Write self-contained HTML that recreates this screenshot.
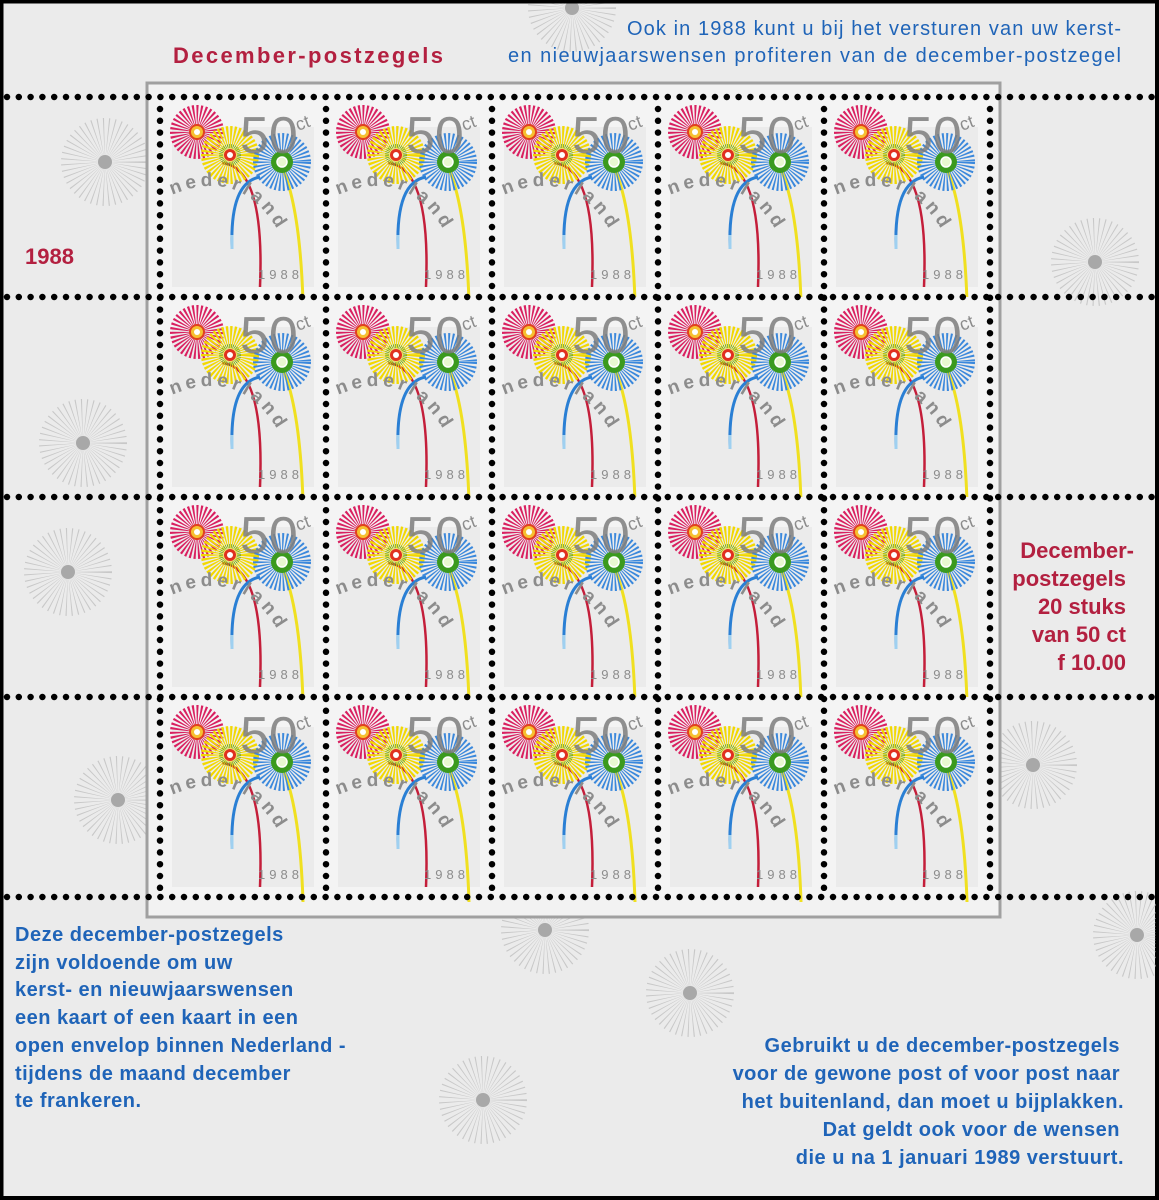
<!DOCTYPE html>
<html><head><meta charset="utf-8"><style>
html,body{margin:0;padding:0;background:#000}
svg{display:block}
.b{font-family:"Liberation Sans",sans-serif;fill:#1f64b8;font-size:20px;font-weight:bold;letter-spacing:0.5px}
.r{font-family:"Liberation Sans",sans-serif;fill:#b32040;font-weight:bold;font-size:22px}
</style></head><body>
<svg width="1159" height="1200" viewBox="0 0 1159 1200" xmlns="http://www.w3.org/2000/svg">
<defs>
<g id="bg">
<circle r="22" fill="none" stroke="#c8c8c8" stroke-width="44" stroke-dasharray="0.6 2.6"/>
<circle r="7" fill="#a8a8a8"/>
</g>
<g id="fw">
<rect x="0" y="0" width="166" height="200" fill="#f4f4f4"/>
<rect x="12" y="30" width="142" height="160" fill="#ebebeb"/>
<path d="M62 66 Q105 70 100 190" fill="none" stroke="#c41e3a" stroke-width="2.5"/>
<path d="M72 150 Q70 85 100 80" fill="none" stroke="#2a7fd4" stroke-width="3"/>
<path d="M72 138 L72 152" stroke="#9fd0f0" stroke-width="3"/>
<path d="M122 70 Q140 110 143 205" fill="none" stroke="#f0e020" stroke-width="3"/>
<circle cx="37" cy="35" r="15" fill="none" stroke="#d92060" stroke-width="24" stroke-dasharray="1.3 1.4"/>
<circle cx="37" cy="35" r="7" fill="#f6c030" stroke="#e04020" stroke-width="2"/>
<circle cx="37" cy="35" r="3" fill="#fff"/>
<circle cx="70" cy="58" r="16" fill="none" stroke="#f2d800" stroke-width="26" stroke-dasharray="1.4 1.2"/>
<circle cx="70" cy="58" r="9" fill="none" stroke="#4a9a28" stroke-width="4" stroke-dasharray="0.6 1.2"/>
<circle cx="70" cy="58" r="6" fill="#e03020"/>
<circle cx="70" cy="58" r="3" fill="#fff"/>
<circle cx="122" cy="65" r="16" fill="none" stroke="#3a88dc" stroke-width="26" stroke-dasharray="1.2 1.4"/>
<circle cx="122" cy="65" r="11" fill="#3b9a1e"/>
<circle cx="122" cy="65" r="5" fill="#e8f8d0" stroke="#fff" stroke-width="1.5"/>
</g>
<path id="arc" d="M12 98 Q100 60 138 180"/>
</defs>
<rect x="3" y="3" width="1152" height="1193" fill="#ebebeb"/>
<use href="#bg" x="105" y="162"/><use href="#bg" x="1095" y="262"/><use href="#bg" x="83" y="443"/>
<use href="#bg" x="68" y="572"/><use href="#bg" x="1033" y="765"/><use href="#bg" x="118" y="800"/>
<use href="#bg" x="690" y="993"/><use href="#bg" x="483" y="1100"/><use href="#bg" x="1137" y="935"/>
<use href="#bg" x="572" y="8"/><use href="#bg" x="545" y="930"/>
<text class="r" x="173" y="63" style="font-size:22px;letter-spacing:1px" textLength="271">December-postzegels</text>
<text class="b" x="1121" y="35" text-anchor="end" style="font-weight:normal;letter-spacing:0" textLength="494">Ook in 1988 kunt u bij het versturen van uw kerst-</text>
<text class="b" x="1121" y="62" text-anchor="end" style="font-weight:normal;letter-spacing:0" textLength="613">en nieuwjaarswensen profiteren van de december-postzegel</text>
<text class="r" x="25" y="264">1988</text>
<g class="r" text-anchor="end"><text x="1134" y="558">December-</text><text x="1126" y="586">postzegels</text><text x="1126" y="614">20 stuks</text><text x="1126" y="642">van 50 ct</text><text x="1126" y="670">f 10.00</text></g>
<g class="b"><text x="15" y="941">Deze december-postzegels</text><text x="15" y="969">zijn voldoende om uw</text><text x="15" y="996">kerst- en nieuwjaarswensen</text><text x="15" y="1024">een kaart of een kaart in een</text><text x="15" y="1052">open envelop binnen Nederland -</text><text x="15" y="1080">tijdens de maand december</text><text x="15" y="1107">te frankeren.</text></g>
<g class="b" text-anchor="end"><text x="1120" y="1052">Gebruikt u de december-postzegels</text><text x="1120" y="1080">voor de gewone post of voor post naar</text><text x="1124" y="1108">het buitenland, dan moet u bijplakken.</text><text x="1120" y="1136">Dat geldt ook voor de wensen</text><text x="1124" y="1164">die u na 1 januari 1989 verstuurt.</text></g>
<rect x="147" y="83" width="853" height="834" fill="#f2f2f2" stroke="#a0a0a0" stroke-width="3"/>
<g id="stamps" font-family="Liberation Sans, sans-serif">
<g transform="translate(160,97)"><use href="#fw"/><text x="80" y="56" font-size="52" fill="#7e7e7e" opacity=".85">50</text><text x="138" y="34" font-size="18" fill="#8c8c8c" transform="rotate(-20 138 34)">ct</text><text font-size="19" font-weight="bold" fill="#8c8c8c" letter-spacing="4"><textPath href="#arc">nederland</textPath></text><text x="98" y="182" font-size="13" fill="#8c8c8c" letter-spacing="4">1988</text></g>
<g transform="translate(326,97)"><use href="#fw"/><text x="80" y="56" font-size="52" fill="#7e7e7e" opacity=".85">50</text><text x="138" y="34" font-size="18" fill="#8c8c8c" transform="rotate(-20 138 34)">ct</text><text font-size="19" font-weight="bold" fill="#8c8c8c" letter-spacing="4"><textPath href="#arc">nederland</textPath></text><text x="98" y="182" font-size="13" fill="#8c8c8c" letter-spacing="4">1988</text></g>
<g transform="translate(492,97)"><use href="#fw"/><text x="80" y="56" font-size="52" fill="#7e7e7e" opacity=".85">50</text><text x="138" y="34" font-size="18" fill="#8c8c8c" transform="rotate(-20 138 34)">ct</text><text font-size="19" font-weight="bold" fill="#8c8c8c" letter-spacing="4"><textPath href="#arc">nederland</textPath></text><text x="98" y="182" font-size="13" fill="#8c8c8c" letter-spacing="4">1988</text></g>
<g transform="translate(658,97)"><use href="#fw"/><text x="80" y="56" font-size="52" fill="#7e7e7e" opacity=".85">50</text><text x="138" y="34" font-size="18" fill="#8c8c8c" transform="rotate(-20 138 34)">ct</text><text font-size="19" font-weight="bold" fill="#8c8c8c" letter-spacing="4"><textPath href="#arc">nederland</textPath></text><text x="98" y="182" font-size="13" fill="#8c8c8c" letter-spacing="4">1988</text></g>
<g transform="translate(824,97)"><use href="#fw"/><text x="80" y="56" font-size="52" fill="#7e7e7e" opacity=".85">50</text><text x="138" y="34" font-size="18" fill="#8c8c8c" transform="rotate(-20 138 34)">ct</text><text font-size="19" font-weight="bold" fill="#8c8c8c" letter-spacing="4"><textPath href="#arc">nederland</textPath></text><text x="98" y="182" font-size="13" fill="#8c8c8c" letter-spacing="4">1988</text></g>
<g transform="translate(160,297)"><use href="#fw"/><text x="80" y="56" font-size="52" fill="#7e7e7e" opacity=".85">50</text><text x="138" y="34" font-size="18" fill="#8c8c8c" transform="rotate(-20 138 34)">ct</text><text font-size="19" font-weight="bold" fill="#8c8c8c" letter-spacing="4"><textPath href="#arc">nederland</textPath></text><text x="98" y="182" font-size="13" fill="#8c8c8c" letter-spacing="4">1988</text></g>
<g transform="translate(326,297)"><use href="#fw"/><text x="80" y="56" font-size="52" fill="#7e7e7e" opacity=".85">50</text><text x="138" y="34" font-size="18" fill="#8c8c8c" transform="rotate(-20 138 34)">ct</text><text font-size="19" font-weight="bold" fill="#8c8c8c" letter-spacing="4"><textPath href="#arc">nederland</textPath></text><text x="98" y="182" font-size="13" fill="#8c8c8c" letter-spacing="4">1988</text></g>
<g transform="translate(492,297)"><use href="#fw"/><text x="80" y="56" font-size="52" fill="#7e7e7e" opacity=".85">50</text><text x="138" y="34" font-size="18" fill="#8c8c8c" transform="rotate(-20 138 34)">ct</text><text font-size="19" font-weight="bold" fill="#8c8c8c" letter-spacing="4"><textPath href="#arc">nederland</textPath></text><text x="98" y="182" font-size="13" fill="#8c8c8c" letter-spacing="4">1988</text></g>
<g transform="translate(658,297)"><use href="#fw"/><text x="80" y="56" font-size="52" fill="#7e7e7e" opacity=".85">50</text><text x="138" y="34" font-size="18" fill="#8c8c8c" transform="rotate(-20 138 34)">ct</text><text font-size="19" font-weight="bold" fill="#8c8c8c" letter-spacing="4"><textPath href="#arc">nederland</textPath></text><text x="98" y="182" font-size="13" fill="#8c8c8c" letter-spacing="4">1988</text></g>
<g transform="translate(824,297)"><use href="#fw"/><text x="80" y="56" font-size="52" fill="#7e7e7e" opacity=".85">50</text><text x="138" y="34" font-size="18" fill="#8c8c8c" transform="rotate(-20 138 34)">ct</text><text font-size="19" font-weight="bold" fill="#8c8c8c" letter-spacing="4"><textPath href="#arc">nederland</textPath></text><text x="98" y="182" font-size="13" fill="#8c8c8c" letter-spacing="4">1988</text></g>
<g transform="translate(160,497)"><use href="#fw"/><text x="80" y="56" font-size="52" fill="#7e7e7e" opacity=".85">50</text><text x="138" y="34" font-size="18" fill="#8c8c8c" transform="rotate(-20 138 34)">ct</text><text font-size="19" font-weight="bold" fill="#8c8c8c" letter-spacing="4"><textPath href="#arc">nederland</textPath></text><text x="98" y="182" font-size="13" fill="#8c8c8c" letter-spacing="4">1988</text></g>
<g transform="translate(326,497)"><use href="#fw"/><text x="80" y="56" font-size="52" fill="#7e7e7e" opacity=".85">50</text><text x="138" y="34" font-size="18" fill="#8c8c8c" transform="rotate(-20 138 34)">ct</text><text font-size="19" font-weight="bold" fill="#8c8c8c" letter-spacing="4"><textPath href="#arc">nederland</textPath></text><text x="98" y="182" font-size="13" fill="#8c8c8c" letter-spacing="4">1988</text></g>
<g transform="translate(492,497)"><use href="#fw"/><text x="80" y="56" font-size="52" fill="#7e7e7e" opacity=".85">50</text><text x="138" y="34" font-size="18" fill="#8c8c8c" transform="rotate(-20 138 34)">ct</text><text font-size="19" font-weight="bold" fill="#8c8c8c" letter-spacing="4"><textPath href="#arc">nederland</textPath></text><text x="98" y="182" font-size="13" fill="#8c8c8c" letter-spacing="4">1988</text></g>
<g transform="translate(658,497)"><use href="#fw"/><text x="80" y="56" font-size="52" fill="#7e7e7e" opacity=".85">50</text><text x="138" y="34" font-size="18" fill="#8c8c8c" transform="rotate(-20 138 34)">ct</text><text font-size="19" font-weight="bold" fill="#8c8c8c" letter-spacing="4"><textPath href="#arc">nederland</textPath></text><text x="98" y="182" font-size="13" fill="#8c8c8c" letter-spacing="4">1988</text></g>
<g transform="translate(824,497)"><use href="#fw"/><text x="80" y="56" font-size="52" fill="#7e7e7e" opacity=".85">50</text><text x="138" y="34" font-size="18" fill="#8c8c8c" transform="rotate(-20 138 34)">ct</text><text font-size="19" font-weight="bold" fill="#8c8c8c" letter-spacing="4"><textPath href="#arc">nederland</textPath></text><text x="98" y="182" font-size="13" fill="#8c8c8c" letter-spacing="4">1988</text></g>
<g transform="translate(160,697)"><use href="#fw"/><text x="80" y="56" font-size="52" fill="#7e7e7e" opacity=".85">50</text><text x="138" y="34" font-size="18" fill="#8c8c8c" transform="rotate(-20 138 34)">ct</text><text font-size="19" font-weight="bold" fill="#8c8c8c" letter-spacing="4"><textPath href="#arc">nederland</textPath></text><text x="98" y="182" font-size="13" fill="#8c8c8c" letter-spacing="4">1988</text></g>
<g transform="translate(326,697)"><use href="#fw"/><text x="80" y="56" font-size="52" fill="#7e7e7e" opacity=".85">50</text><text x="138" y="34" font-size="18" fill="#8c8c8c" transform="rotate(-20 138 34)">ct</text><text font-size="19" font-weight="bold" fill="#8c8c8c" letter-spacing="4"><textPath href="#arc">nederland</textPath></text><text x="98" y="182" font-size="13" fill="#8c8c8c" letter-spacing="4">1988</text></g>
<g transform="translate(492,697)"><use href="#fw"/><text x="80" y="56" font-size="52" fill="#7e7e7e" opacity=".85">50</text><text x="138" y="34" font-size="18" fill="#8c8c8c" transform="rotate(-20 138 34)">ct</text><text font-size="19" font-weight="bold" fill="#8c8c8c" letter-spacing="4"><textPath href="#arc">nederland</textPath></text><text x="98" y="182" font-size="13" fill="#8c8c8c" letter-spacing="4">1988</text></g>
<g transform="translate(658,697)"><use href="#fw"/><text x="80" y="56" font-size="52" fill="#7e7e7e" opacity=".85">50</text><text x="138" y="34" font-size="18" fill="#8c8c8c" transform="rotate(-20 138 34)">ct</text><text font-size="19" font-weight="bold" fill="#8c8c8c" letter-spacing="4"><textPath href="#arc">nederland</textPath></text><text x="98" y="182" font-size="13" fill="#8c8c8c" letter-spacing="4">1988</text></g>
<g transform="translate(824,697)"><use href="#fw"/><text x="80" y="56" font-size="52" fill="#7e7e7e" opacity=".85">50</text><text x="138" y="34" font-size="18" fill="#8c8c8c" transform="rotate(-20 138 34)">ct</text><text font-size="19" font-weight="bold" fill="#8c8c8c" letter-spacing="4"><textPath href="#arc">nederland</textPath></text><text x="98" y="182" font-size="13" fill="#8c8c8c" letter-spacing="4">1988</text></g>
</g>
<g stroke="#000" stroke-width="6.5" stroke-linecap="round" stroke-dasharray="0 11.8" fill="none">
<path d="M7 97H1152M7 297H1152M7 497H1152M7 697H1152M7 897H1152"/>
<path d="M160 109V897M326 109V897M492 109V897M658 109V897M824 109V897M990 109V897"/>
</g>
<rect x="1.5" y="1.5" width="1156" height="1197" fill="none" stroke="#000" stroke-width="4"/>
</svg>
</body></html>
